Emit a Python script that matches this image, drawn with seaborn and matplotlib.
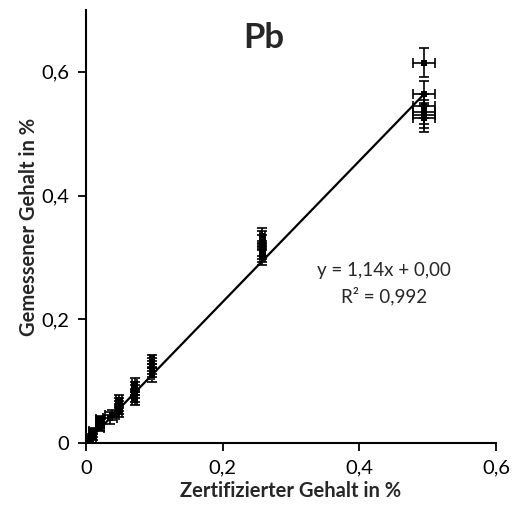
import numpy as np
import pandas as pd
import matplotlib
matplotlib.use("Agg")
import matplotlib.pyplot as plt
import seaborn as sns

# Data (certified vs measured Pb content, %)
cert = [0.495, 0.495, 0.495, 0.495, 0.495, 0.495,
        0.258, 0.258, 0.258, 0.258, 0.258, 0.258, 0.258,
        0.097, 0.097, 0.097, 0.097, 0.097, 0.097,
        0.071, 0.071, 0.071, 0.071, 0.071, 0.071,
        0.048, 0.048, 0.048, 0.048, 0.048,
        0.038, 0.035,
        0.020, 0.020, 0.020, 0.020,
        0.010, 0.010, 0.010,
        0.005, 0.005, 0.005]
measured = [0.615, 0.565, 0.545, 0.535, 0.530, 0.525,
            0.335, 0.330, 0.325, 0.315, 0.310, 0.305, 0.300,
            0.135, 0.130, 0.125, 0.120, 0.115, 0.110,
            0.095, 0.090, 0.085, 0.080, 0.075, 0.070,
            0.070, 0.065, 0.060, 0.055, 0.050,
            0.045, 0.040,
            0.038, 0.035, 0.030, 0.025,
            0.020, 0.015, 0.010,
            0.008, 0.005, 0.002]
x_err = [0.016, 0.016, 0.016, 0.016, 0.016, 0.016,
         0.004, 0.004, 0.004, 0.004, 0.004, 0.004, 0.004,
         0.003, 0.003, 0.003, 0.003, 0.003, 0.003,
         0.003, 0.003, 0.003, 0.003, 0.003, 0.003,
         0.004, 0.004, 0.004, 0.004, 0.004,
         0.010, 0.010,
         0.006, 0.006, 0.006, 0.006,
         0.005, 0.005, 0.005,
         0.003, 0.003, 0.003]
y_err = [0.024, 0.020, 0.020, 0.020, 0.020, 0.022,
         0.012, 0.012, 0.012, 0.012, 0.012, 0.012, 0.012,
         0.008, 0.008, 0.008, 0.008, 0.008, 0.012,
         0.010, 0.008, 0.008, 0.008, 0.008, 0.008,
         0.008, 0.008, 0.008, 0.008, 0.008,
         0.008, 0.010,
         0.006, 0.006, 0.006, 0.006,
         0.005, 0.005, 0.005,
         0.004, 0.004, 0.004]

slope = 1.14
intercept = 0.00
x_ticks = [0, 0.2, 0.4, 0.6]
y_ticks = [0, 0.2, 0.4, 0.6]
tick_labels = ["0", "0,2", "0,4", "0,6"]

df = pd.DataFrame({"cert": cert, "measured": measured, "xerr": x_err, "yerr": y_err})

sns.set_theme(style="white")
plt.rcParams['font.family'] = ['Lato', 'DejaVu Sans']

fig = plt.figure(figsize=(5.17, 5.13), dpi=100)
ax = fig.add_axes([86/517, 70/513, 410/517, 433/513])

# Trend line
line_x = np.array([min(cert), max(cert)])
line_df = pd.DataFrame({"x": line_x, "y": slope * line_x + intercept})
sns.lineplot(data=line_df, x="x", y="y", ax=ax, color="black", linewidth=1.6, zorder=2)

# Error bars
ax.errorbar(df["cert"], df["measured"], xerr=df["xerr"], yerr=df["yerr"],
            fmt="none", ecolor="black", elinewidth=1.2, capsize=3.5, capthick=1.2, zorder=3)

# Markers
sns.scatterplot(data=df, x="cert", y="measured", ax=ax, marker="s", s=20,
                color="black", edgecolor="black", linewidth=0, zorder=4)

ax.set_xlim(0, 0.6)
ax.set_ylim(0, 0.7)
ax.set_xticks(x_ticks)
ax.set_xticklabels(tick_labels)
ax.set_yticks(y_ticks)
ax.set_yticklabels(tick_labels)

for s in ["top", "right"]:
    ax.spines[s].set_visible(False)
for s in ["left", "bottom"]:
    ax.spines[s].set_color("black")
    ax.spines[s].set_linewidth(1.5)

ax.tick_params(axis="both", which="major", direction="out", length=6, width=1.3,
               color="black", labelsize=14.5, labelcolor="black", pad=6,
               bottom=True, left=True)

ax.set_xlabel("Zertifizierter Gehalt in %", fontsize=14.5, fontweight="bold", labelpad=3)
ax.set_ylabel("Gemessener Gehalt in %", fontsize=14.5, fontweight="bold", labelpad=2)

ax.text(0.434, 0.935, "Pb", transform=ax.transAxes, ha="center", va="center",
        fontsize=25, fontweight="bold")
ax.text(0.4365, 0.279, "y = 1,14x + 0,00", ha="center", va="center", fontsize=13.5)
ax.text(0.4365, 0.237, "R² = 0,992", ha="center", va="center", fontsize=13.5)

fig.savefig("out.png", dpi=100, facecolor="white")
